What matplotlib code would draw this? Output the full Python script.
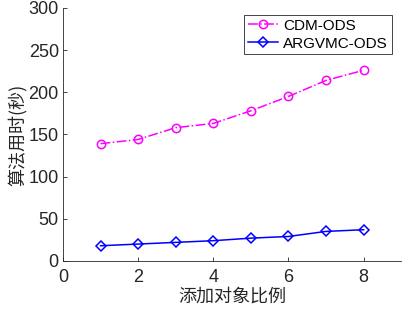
import matplotlib
matplotlib.use('Agg')
import matplotlib.pyplot as plt

plt.rcParams['font.family'] = ['Liberation Sans', 'Noto Sans CJK SC', 'DejaVu Sans']

ratio = [1, 2, 3, 4, 5, 6, 7, 8]
cdm_ods = [139, 144, 158, 163, 178, 195, 214, 226]
argvmc_ods = [18, 20, 22, 24, 27, 29, 35, 37]

fig = plt.figure(figsize=(4.04, 3.14), dpi=100)
ax = fig.add_axes([0.156, 0.169, 0.837, 0.806])

ax.plot(ratio, cdm_ods, color='#ff00ff', linestyle='-.', marker='o',
        markersize=6, markerfacecolor='none', markeredgewidth=1.1, lw=1.1, label='CDM-ODS')
ax.plot(ratio, argvmc_ods, color='#0000ff', linestyle='-', marker='D',
        markersize=5.5, markerfacecolor='none', markeredgewidth=1.1, lw=1.1, label='ARGVMC-ODS')

ax.set_xlim(0, 9)
ax.set_ylim(0, 300)
ax.set_xticks([0, 2, 4, 6, 8])
ax.set_yticks([0, 50, 100, 150, 200, 250, 300])
ax.tick_params(labelsize=13, direction='in', length=3, width=0.6, colors='#262626')
ax.tick_params(axis='x', pad=6)
ax.tick_params(axis='y', pad=3)
ax.spines['top'].set_visible(False)
ax.spines['right'].set_visible(False)
for s in ['left', 'bottom']:
    ax.spines[s].set_linewidth(0.6)
    ax.spines[s].set_color('#262626')

ax.set_xlabel('添加对象比例', fontsize=13, family=['Noto Sans CJK SC'], color='#262626', labelpad=1)
ax.set_ylabel('算法用时(秒)', fontsize=13, family=['Noto Sans CJK SC'], color='#262626', labelpad=1)

leg = ax.legend(loc='upper right', bbox_to_anchor=(0.985, 0.99), fontsize=11,
                fancybox=False, edgecolor='#262626', framealpha=1,
                handlelength=2.0, handletextpad=0.3, borderpad=0.25, labelspacing=0.25,
                borderaxespad=0.3)
leg.get_frame().set_linewidth(0.6)

fig.savefig('out.png', dpi=100)
